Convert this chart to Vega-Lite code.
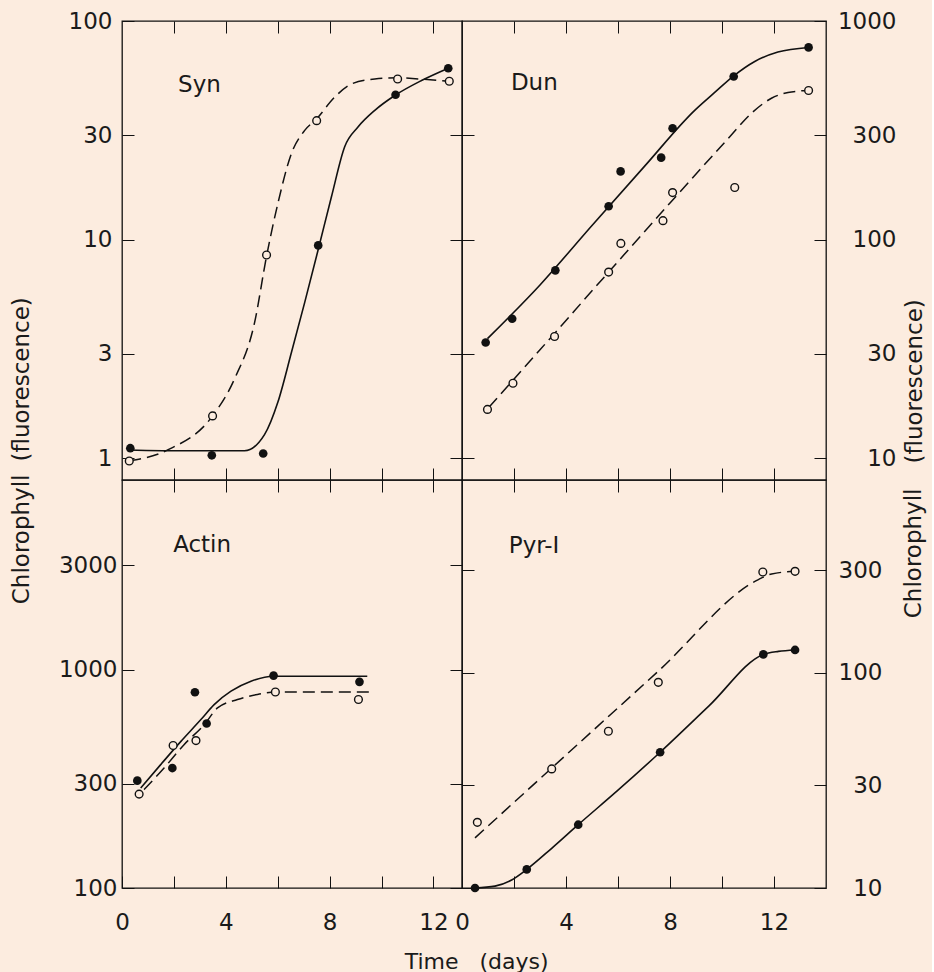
{
  "$schema": "https://vega.github.io/schema/vega-lite/v6.json",
  "background": "#FCECDF",
  "padding": {"left": 9, "top": 9, "right": 5, "bottom": 0},
  "columns": 2,
  "spacing": 0,
  "bounds": "flush",
  "align": "each",
  "config": {
    "view": {"stroke": "#111", "strokeWidth": 1.3},
    "axis": {
      "grid": false, "domain": false, "tickColor": "#111", "tickSize": -12, "tickWidth": 1,
      "labelFont": "DejaVu Sans", "labelFontSize": 23, "labelFontWeight": "normal", "labelColor": "#1a1a1a",
      "labelFlush": false, "labelOverlap": false,
      "titleFont": "DejaVu Sans", "titleFontSize": 23, "titleFontWeight": "normal", "titleColor": "#1a1a1a"
    }
  },
  "datasets": {
    "syn": [
      {"series":"filled","kind":"point","day":0.32,"chl":1.11},
      {"series":"filled","kind":"point","day":3.46,"chl":1.03},
      {"series":"filled","kind":"point","day":5.44,"chl":1.05},
      {"series":"filled","kind":"point","day":7.56,"chl":9.4},
      {"series":"filled","kind":"point","day":10.54,"chl":46},
      {"series":"filled","kind":"point","day":12.57,"chl":60.8},
      {"series":"open","kind":"point","day":0.28,"chl":0.97},
      {"series":"open","kind":"point","day":3.49,"chl":1.56},
      {"series":"open","kind":"point","day":5.57,"chl":8.5},
      {"series":"open","kind":"point","day":7.5,"chl":35},
      {"series":"open","kind":"point","day":10.62,"chl":54.3},
      {"series":"open","kind":"point","day":12.61,"chl":53},
      {"series":"filled","kind":"curve","day":0.22,"chl":1.09},
      {"series":"filled","kind":"curve","day":2.5,"chl":1.08},
      {"series":"filled","kind":"curve","day":4.72,"chl":1.08},
      {"series":"filled","kind":"curve","day":5.49,"chl":1.28},
      {"series":"filled","kind":"curve","day":6.01,"chl":1.81},
      {"series":"filled","kind":"curve","day":6.53,"chl":3.05},
      {"series":"filled","kind":"curve","day":7.04,"chl":5.16},
      {"series":"filled","kind":"curve","day":7.56,"chl":9.0},
      {"series":"filled","kind":"curve","day":8.07,"chl":15.7},
      {"series":"filled","kind":"curve","day":8.58,"chl":26.6},
      {"series":"filled","kind":"curve","day":9.1,"chl":32.8},
      {"series":"filled","kind":"curve","day":9.74,"chl":39},
      {"series":"filled","kind":"curve","day":10.51,"chl":45.6},
      {"series":"filled","kind":"curve","day":11.54,"chl":53.4},
      {"series":"filled","kind":"curve","day":12.57,"chl":60.8},
      {"series":"open","kind":"curve","day":0.28,"chl":0.97},
      {"series":"open","kind":"curve","day":1.76,"chl":1.09},
      {"series":"open","kind":"curve","day":3.49,"chl":1.56},
      {"series":"open","kind":"curve","day":4.34,"chl":2.31},
      {"series":"open","kind":"curve","day":5.11,"chl":4.18},
      {"series":"open","kind":"curve","day":5.57,"chl":8.4},
      {"series":"open","kind":"curve","day":6.01,"chl":14.7},
      {"series":"open","kind":"curve","day":6.53,"chl":24.8},
      {"series":"open","kind":"curve","day":7.04,"chl":31.6},
      {"series":"open","kind":"curve","day":7.5,"chl":35.7},
      {"series":"open","kind":"curve","day":8.2,"chl":44.9},
      {"series":"open","kind":"curve","day":8.84,"chl":51.5},
      {"series":"open","kind":"curve","day":9.74,"chl":54.3},
      {"series":"open","kind":"curve","day":10.62,"chl":55},
      {"series":"open","kind":"curve","day":11.42,"chl":54.3},
      {"series":"open","kind":"curve","day":12.61,"chl":53}
    ],
    "dun": [
      {"series":"filled","kind":"point","day":0.91,"chl":33.8},
      {"series":"filled","kind":"point","day":1.93,"chl":43.4},
      {"series":"filled","kind":"point","day":3.59,"chl":72.3},
      {"series":"filled","kind":"point","day":5.64,"chl":142},
      {"series":"filled","kind":"point","day":6.1,"chl":205},
      {"series":"filled","kind":"point","day":7.66,"chl":237},
      {"series":"filled","kind":"point","day":8.1,"chl":323},
      {"series":"filled","kind":"point","day":10.45,"chl":557},
      {"series":"filled","kind":"point","day":13.33,"chl":757},
      {"series":"open","kind":"point","day":0.98,"chl":16.7},
      {"series":"open","kind":"point","day":1.96,"chl":22},
      {"series":"open","kind":"point","day":3.56,"chl":36},
      {"series":"open","kind":"point","day":5.64,"chl":71},
      {"series":"open","kind":"point","day":6.11,"chl":96},
      {"series":"open","kind":"point","day":7.73,"chl":122},
      {"series":"open","kind":"point","day":8.1,"chl":164},
      {"series":"open","kind":"point","day":10.49,"chl":173},
      {"series":"open","kind":"point","day":13.33,"chl":481},
      {"series":"filled","kind":"curve","day":0.98,"chl":35.2},
      {"series":"filled","kind":"curve","day":3.0,"chl":62},
      {"series":"filled","kind":"curve","day":5.0,"chl":116},
      {"series":"filled","kind":"curve","day":7.0,"chl":215},
      {"series":"filled","kind":"curve","day":8.96,"chl":391},
      {"series":"filled","kind":"curve","day":9.72,"chl":471},
      {"series":"filled","kind":"curve","day":10.45,"chl":561},
      {"series":"filled","kind":"curve","day":11.26,"chl":653},
      {"series":"filled","kind":"curve","day":12.15,"chl":721},
      {"series":"filled","kind":"curve","day":13.33,"chl":757},
      {"series":"open","kind":"curve","day":1.04,"chl":17.1},
      {"series":"open","kind":"curve","day":3.0,"chl":31.3},
      {"series":"open","kind":"curve","day":5.64,"chl":71},
      {"series":"open","kind":"curve","day":8.0,"chl":147},
      {"series":"open","kind":"curve","day":10.24,"chl":290},
      {"series":"open","kind":"curve","day":11.13,"chl":378},
      {"series":"open","kind":"curve","day":11.9,"chl":443},
      {"series":"open","kind":"curve","day":12.54,"chl":471},
      {"series":"open","kind":"curve","day":13.33,"chl":481}
    ],
    "actin": [
      {"series":"filled","kind":"point","day":0.59,"chl":310},
      {"series":"filled","kind":"point","day":1.94,"chl":354},
      {"series":"filled","kind":"point","day":2.81,"chl":787},
      {"series":"filled","kind":"point","day":3.26,"chl":566},
      {"series":"filled","kind":"point","day":5.84,"chl":938},
      {"series":"filled","kind":"point","day":9.15,"chl":878},
      {"series":"open","kind":"point","day":0.66,"chl":269},
      {"series":"open","kind":"point","day":1.97,"chl":449},
      {"series":"open","kind":"point","day":2.85,"chl":473},
      {"series":"open","kind":"point","day":5.91,"chl":789},
      {"series":"open","kind":"point","day":9.11,"chl":729},
      {"series":"filled","kind":"curve","day":0.72,"chl":287},
      {"series":"filled","kind":"curve","day":1.49,"chl":367},
      {"series":"filled","kind":"curve","day":2.27,"chl":469},
      {"series":"filled","kind":"curve","day":3.04,"chl":590},
      {"series":"filled","kind":"curve","day":3.55,"chl":691},
      {"series":"filled","kind":"curve","day":4.2,"chl":796},
      {"series":"filled","kind":"curve","day":4.97,"chl":884},
      {"series":"filled","kind":"curve","day":5.84,"chl":932},
      {"series":"filled","kind":"curve","day":9.45,"chl":932},
      {"series":"open","kind":"curve","day":0.85,"chl":282},
      {"series":"open","kind":"curve","day":1.62,"chl":354},
      {"series":"open","kind":"curve","day":2.39,"chl":453},
      {"series":"open","kind":"curve","day":3.17,"chl":560},
      {"series":"open","kind":"curve","day":3.68,"chl":667},
      {"series":"open","kind":"curve","day":4.45,"chl":729},
      {"series":"open","kind":"curve","day":5.22,"chl":769},
      {"series":"open","kind":"curve","day":5.91,"chl":789},
      {"series":"open","kind":"curve","day":9.54,"chl":789}
    ],
    "pyr": [
      {"series":"filled","kind":"point","day":0.5,"chl":10.0},
      {"series":"filled","kind":"point","day":2.49,"chl":12.2},
      {"series":"filled","kind":"point","day":4.47,"chl":19.7},
      {"series":"filled","kind":"point","day":7.62,"chl":42.8},
      {"series":"filled","kind":"point","day":11.59,"chl":122},
      {"series":"filled","kind":"point","day":12.81,"chl":128},
      {"series":"open","kind":"point","day":0.59,"chl":20.2},
      {"series":"open","kind":"point","day":3.45,"chl":35.8},
      {"series":"open","kind":"point","day":5.63,"chl":53.6},
      {"series":"open","kind":"point","day":7.55,"chl":90.5},
      {"series":"open","kind":"point","day":11.57,"chl":295},
      {"series":"open","kind":"point","day":12.81,"chl":297},
      {"series":"filled","kind":"curve","day":0.5,"chl":10.0},
      {"series":"filled","kind":"curve","day":1.27,"chl":10.2},
      {"series":"filled","kind":"curve","day":1.91,"chl":10.9},
      {"series":"filled","kind":"curve","day":2.49,"chl":12.2},
      {"series":"filled","kind":"curve","day":3.45,"chl":15.3},
      {"series":"filled","kind":"curve","day":4.47,"chl":19.7},
      {"series":"filled","kind":"curve","day":6.0,"chl":28.5},
      {"series":"filled","kind":"curve","day":7.62,"chl":42.8},
      {"series":"filled","kind":"curve","day":9.5,"chl":70.3},
      {"series":"filled","kind":"curve","day":11.59,"chl":122},
      {"series":"filled","kind":"curve","day":12.17,"chl":126},
      {"series":"filled","kind":"curve","day":12.81,"chl":128},
      {"series":"open","kind":"curve","day":0.5,"chl":17.1},
      {"series":"open","kind":"curve","day":3.5,"chl":36.6},
      {"series":"open","kind":"curve","day":7.55,"chl":102},
      {"series":"open","kind":"curve","day":11.4,"chl":272},
      {"series":"open","kind":"curve","day":11.91,"chl":289},
      {"series":"open","kind":"curve","day":12.81,"chl":297}
    ]
  },
  "concat": [
    {
      "width": 340, "height": 459,
      "data": {"name": "syn"},
      "layer": [
        {"transform": [{"filter": "datum.kind == 'curve' && datum.series == 'filled'"}],
         "mark": {"type": "line", "color": "#111", "strokeWidth": 1.6, "interpolate": "monotone"},
         "encoding": {
           "x": {"field": "day", "type": "quantitative", "scale": {"domain": [0, 13.1], "nice": false, "zero": false},
                 "axis": {"orient": "bottom", "values": [2,4,6,8,10,12], "labels": false, "title": null}},
           "y": {"field": "chl", "type": "quantitative", "scale": {"type": "log", "domain": [0.794, 100], "nice": false},
                 "axis": {"orient": "left", "values": [1,3,10,30,100], "format": "d", "labelPadding": 22,
                          "title": "(fluorescence)", "titleX": -101, "titleY": 440, "titleAngle": 270, "titleAlign": "left", "titleBaseline": "middle"}}
         }},
        {"mark": {"type": "point", "opacity": 0},
         "encoding": {
           "x": {"field": "day", "type": "quantitative", "axis": {"orient": "top", "values": [2,4,6,8,10,12], "labels": false, "title": null}},
           "y": {"field": "chl", "type": "quantitative", "axis": {"orient": "right", "values": [1,3,10,30], "labels": false, "title": null}}
         }},
        {"transform": [{"filter": "datum.kind == 'curve' && datum.series == 'open'"}],
         "mark": {"type": "line", "color": "#111", "strokeWidth": 1.5, "strokeDash": [12, 6], "interpolate": "monotone"},
         "encoding": {"x": {"field": "day", "type": "quantitative", "axis": null}, "y": {"field": "chl", "type": "quantitative", "axis": null}}},
        {"transform": [{"filter": "datum.kind == 'point' && datum.series == 'filled'"}],
         "mark": {"type": "circle", "color": "#111", "size": 75, "opacity": 1},
         "encoding": {"x": {"field": "day", "type": "quantitative", "axis": null}, "y": {"field": "chl", "type": "quantitative", "axis": null}}},
        {"transform": [{"filter": "datum.kind == 'point' && datum.series == 'open'"}],
         "mark": {"type": "point", "shape": "circle", "filled": false, "fill": "#FCECDF", "fillOpacity": 1, "stroke": "#111", "strokeWidth": 1.4, "size": 60, "opacity": 1},
         "encoding": {"x": {"field": "day", "type": "quantitative", "axis": null}, "y": {"field": "chl", "type": "quantitative", "axis": null}}},
        {"data": {"values": [{"name": "Syn"}]},
         "mark": {"type": "text", "align": "left", "baseline": "alphabetic", "font": "DejaVu Sans", "fontSize": 23, "color": "#1a1a1a"},
         "encoding": {"x": {"datum": 2.16, "type": "quantitative", "axis": null}, "y": {"datum": 47.4, "type": "quantitative", "axis": null}, "text": {"field": "name"}}}
      ],
      "resolve": {"axis": {"x": "independent", "y": "independent"}}
    },
    {
      "width": 364, "height": 459,
      "data": {"name": "dun"},
      "layer": [
        {"transform": [{"filter": "datum.kind == 'curve' && datum.series == 'filled'"}],
         "mark": {"type": "line", "color": "#111", "strokeWidth": 1.6, "interpolate": "monotone"},
         "encoding": {
           "x": {"field": "day", "type": "quantitative", "scale": {"domain": [0, 14], "nice": false, "zero": false},
                 "axis": {"orient": "bottom", "values": [2,4,6,8,10,12], "labels": false, "title": null}},
           "y": {"field": "chl", "type": "quantitative", "scale": {"type": "log", "domain": [7.94, 1000], "nice": false},
                 "axis": {"orient": "left", "values": [10,30,100,300], "labels": false, "title": null}}
         }},
        {"mark": {"type": "point", "opacity": 0},
         "encoding": {
           "x": {"field": "day", "type": "quantitative", "axis": {"orient": "top", "values": [2,4,6,8,10,12], "labels": false, "title": null}},
           "y": {"field": "chl", "type": "quantitative", "axis": {"orient": "right", "values": [10,30,100,300,1000], "format": "d", "labelAlign": "right", "labelPadding": 82,
                 "title": "(fluorescence)", "titleX": 88, "titleY": 442, "titleAngle": 270, "titleAlign": "left", "titleBaseline": "middle"}}
         }},
        {"transform": [{"filter": "datum.kind == 'curve' && datum.series == 'open'"}],
         "mark": {"type": "line", "color": "#111", "strokeWidth": 1.5, "strokeDash": [12, 6], "interpolate": "monotone"},
         "encoding": {"x": {"field": "day", "type": "quantitative", "axis": null}, "y": {"field": "chl", "type": "quantitative", "axis": null}}},
        {"transform": [{"filter": "datum.kind == 'point' && datum.series == 'filled'"}],
         "mark": {"type": "circle", "color": "#111", "size": 75, "opacity": 1},
         "encoding": {"x": {"field": "day", "type": "quantitative", "axis": null}, "y": {"field": "chl", "type": "quantitative", "axis": null}}},
        {"transform": [{"filter": "datum.kind == 'point' && datum.series == 'open'"}],
         "mark": {"type": "point", "shape": "circle", "filled": false, "fill": "#FCECDF", "fillOpacity": 1, "stroke": "#111", "strokeWidth": 1.4, "size": 60, "opacity": 1},
         "encoding": {"x": {"field": "day", "type": "quantitative", "axis": null}, "y": {"field": "chl", "type": "quantitative", "axis": null}}},
        {"data": {"values": [{"name": "Dun"}]},
         "mark": {"type": "text", "align": "left", "baseline": "alphabetic", "font": "DejaVu Sans", "fontSize": 23, "color": "#1a1a1a"},
         "encoding": {"x": {"datum": 1.88, "type": "quantitative", "axis": null}, "y": {"datum": 482, "type": "quantitative", "axis": null}, "text": {"field": "name"}}}
      ],
      "resolve": {"axis": {"x": "independent", "y": "independent"}}
    },
    {
      "width": 340, "height": 408,
      "data": {"name": "actin"},
      "layer": [
        {"transform": [{"filter": "datum.kind == 'curve' && datum.series == 'filled'"}],
         "mark": {"type": "line", "color": "#111", "strokeWidth": 1.6, "interpolate": "monotone"},
         "encoding": {
           "x": {"field": "day", "type": "quantitative", "scale": {"domain": [0, 13.1], "nice": false, "zero": false},
                 "axis": {"orient": "bottom", "values": [0,2,4,6,8,10,12], "labelExpr": "datum.value % 4 === 0 ? datum.label : ''", "labelPadding": 35,
                          "title": "Time", "titleFontSize": 22, "titleX": 336, "titleY": 80, "titleAlign": "right", "titleBaseline": "alphabetic"}},
           "y": {"field": "chl", "type": "quantitative", "scale": {"type": "log", "domain": [100, 7370], "nice": false},
                 "axis": {"orient": "left", "values": [100,300,1000,3000], "format": "d", "labelPadding": 17,
                          "title": "Chlorophyll", "titleX": -101, "titleY": -6, "titleAngle": 270, "titleAlign": "right", "titleBaseline": "middle"}}
         }},
        {"mark": {"type": "point", "opacity": 0},
         "encoding": {
           "x": {"field": "day", "type": "quantitative", "axis": {"orient": "top", "values": [2,4,6,8,10,12], "labels": false, "title": null}},
           "y": {"field": "chl", "type": "quantitative", "axis": {"orient": "right", "values": [100,300,1000,3000], "labels": false, "title": null}}
         }},
        {"transform": [{"filter": "datum.kind == 'curve' && datum.series == 'open'"}],
         "mark": {"type": "line", "color": "#111", "strokeWidth": 1.5, "strokeDash": [12, 6], "interpolate": "monotone"},
         "encoding": {"x": {"field": "day", "type": "quantitative", "axis": null}, "y": {"field": "chl", "type": "quantitative", "axis": null}}},
        {"transform": [{"filter": "datum.kind == 'point' && datum.series == 'filled'"}],
         "mark": {"type": "circle", "color": "#111", "size": 75, "opacity": 1},
         "encoding": {"x": {"field": "day", "type": "quantitative", "axis": null}, "y": {"field": "chl", "type": "quantitative", "axis": null}}},
        {"transform": [{"filter": "datum.kind == 'point' && datum.series == 'open'"}],
         "mark": {"type": "point", "shape": "circle", "filled": false, "fill": "#FCECDF", "fillOpacity": 1, "stroke": "#111", "strokeWidth": 1.4, "size": 60, "opacity": 1},
         "encoding": {"x": {"field": "day", "type": "quantitative", "axis": null}, "y": {"field": "chl", "type": "quantitative", "axis": null}}},
        {"data": {"values": [{"name": "Actin"}]},
         "mark": {"type": "text", "align": "left", "baseline": "alphabetic", "font": "DejaVu Sans", "fontSize": 23, "color": "#1a1a1a"},
         "encoding": {"x": {"datum": 1.97, "type": "quantitative", "axis": null}, "y": {"datum": 3467, "type": "quantitative", "axis": null}, "text": {"field": "name"}}}
      ],
      "resolve": {"axis": {"x": "independent", "y": "independent"}}
    },
    {
      "width": 364, "height": 408,
      "data": {"name": "pyr"},
      "layer": [
        {"transform": [{"filter": "datum.kind == 'curve' && datum.series == 'filled'"}],
         "mark": {"type": "line", "color": "#111", "strokeWidth": 1.6, "interpolate": "monotone"},
         "encoding": {
           "x": {"field": "day", "type": "quantitative", "scale": {"domain": [0, 14], "nice": false, "zero": false},
                 "axis": {"orient": "bottom", "values": [0,2,4,6,8,10,12], "labelExpr": "datum.value % 4 === 0 ? datum.label : ''", "labelPadding": 35,
                          "title": "(days)", "titleFontSize": 22, "titleX": 17, "titleY": 80, "titleAlign": "left", "titleBaseline": "alphabetic"}},
           "y": {"field": "chl", "type": "quantitative", "scale": {"type": "log", "domain": [10, 790], "nice": false},
                 "axis": {"orient": "left", "values": [10,30,100,300], "labels": false, "title": null}}
         }},
        {"mark": {"type": "point", "opacity": 0},
         "encoding": {
           "x": {"field": "day", "type": "quantitative", "axis": {"orient": "top", "values": [2,4,6,8,10,12], "labels": false, "title": null}},
           "y": {"field": "chl", "type": "quantitative", "axis": {"orient": "right", "values": [10,30,100,300], "format": "d", "labelAlign": "right", "labelPadding": 68,
                 "title": "Chlorophyll", "titleX": 87, "titleY": 8, "titleAngle": 270, "titleAlign": "right", "titleBaseline": "middle"}}
         }},
        {"transform": [{"filter": "datum.kind == 'curve' && datum.series == 'open'"}],
         "mark": {"type": "line", "color": "#111", "strokeWidth": 1.5, "strokeDash": [12, 6], "interpolate": "monotone"},
         "encoding": {"x": {"field": "day", "type": "quantitative", "axis": null}, "y": {"field": "chl", "type": "quantitative", "axis": null}}},
        {"transform": [{"filter": "datum.kind == 'point' && datum.series == 'filled'"}],
         "mark": {"type": "circle", "color": "#111", "size": 75, "opacity": 1},
         "encoding": {"x": {"field": "day", "type": "quantitative", "axis": null}, "y": {"field": "chl", "type": "quantitative", "axis": null}}},
        {"transform": [{"filter": "datum.kind == 'point' && datum.series == 'open'"}],
         "mark": {"type": "point", "shape": "circle", "filled": false, "fill": "#FCECDF", "fillOpacity": 1, "stroke": "#111", "strokeWidth": 1.4, "size": 60, "opacity": 1},
         "encoding": {"x": {"field": "day", "type": "quantitative", "axis": null}, "y": {"field": "chl", "type": "quantitative", "axis": null}}},
        {"data": {"values": [{"name": "Pyr-I"}]},
         "mark": {"type": "text", "align": "left", "baseline": "alphabetic", "font": "DejaVu Sans", "fontSize": 23, "color": "#1a1a1a"},
         "encoding": {"x": {"datum": 1.8, "type": "quantitative", "axis": null}, "y": {"datum": 361, "type": "quantitative", "axis": null}, "text": {"field": "name"}}}
      ],
      "resolve": {"axis": {"x": "independent", "y": "independent"}}
    }
  ]
}
